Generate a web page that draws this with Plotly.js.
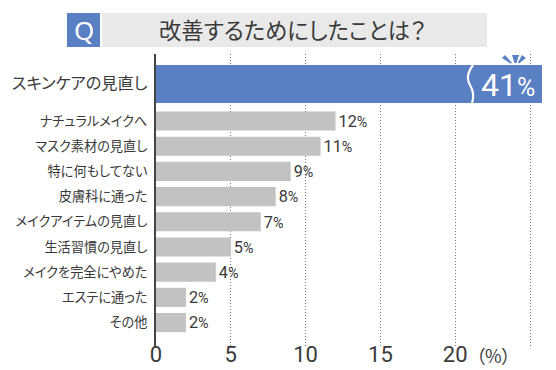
<!DOCTYPE html>
<html>
<head>
<meta charset="utf-8">
<script src="https://cdn.plot.ly/plotly-3.0.1.min.js"></script>
<style>html,body{margin:0;padding:0;background:#fff}
svg text{font-feature-settings:"palt" 1;}</style>
</head>
<body>
<div id="chart" style="width:556px;height:370px"></div>
<script>
const categories = ["スキンケアの見直し","ナチュラルメイクへ","マスク素材の見直し","特に何もしてない","皮膚科に通った","メイクアイテムの見直し","生活習慣の見直し","メイクを完全にやめた","エステに通った","その他"];
const values = [41,12,11,9,8,7,5,4,2,2];
const rowPositions = [0,1.47,2.47,3.47,4.47,5.47,6.47,7.47,8.47,9.47];
const rowWidths = [1.5,0.76,0.76,0.76,0.76,0.76,0.76,0.76,0.76,0.76];
const barColors = ["#5a80c4","#c2c2c2","#c2c2c2","#c2c2c2","#c2c2c2","#c2c2c2","#c2c2c2","#c2c2c2","#c2c2c2","#c2c2c2"];
const xTickVals = [0,5,10,15,20,25];
const xTickText = ["0","5","10","15","20",""];
const titleText = "改善するためにしたことは？";
const jp = '"Noto Sans CJK JP","Noto Sans",sans-serif';
const num = 'Roboto,"Noto Sans",sans-serif';
const ink = "#3a3a3a";

const W=556,H=370,L=156,R=14,T=54,B=24;
const px = x => (x-L)/(W-L-R);
const py = y => (H-B-y)/(H-T-B);
const pathOf = s => s.replace(/(-?[\d.]+),(-?[\d.]+)/g,(m,a,b)=>px(+a).toFixed(5)+","+py(+b).toFixed(5));
const rect=(x0,y0,x1,y1,c)=>({type:"rect",xref:"paper",yref:"paper",x0:px(x0),x1:px(x1),y0:py(y0),y1:py(y1),fillcolor:c,line:{width:0},layer:"above"});
const poly=(s,c)=>({type:"path",xref:"paper",yref:"paper",path:pathOf(s),fillcolor:c,line:{width:0},layer:"above"});

const shapes=[
 rect(67,13,100,47,"#5a80c4"),
 rect(102,13,487,47,"#e9e9e9"),
 {type:"path",xref:"paper",yref:"paper",path:pathOf("M 473,65 C 465,76 468,82 471,87 C 474,93 474,97 472,103"),line:{color:"#fff",width:2.2},layer:"above"},
 poly("M 512,55 L 519,55 L 516.5,63 L 514.5,63 Z","#5a80c4"),
 poly("M 502,58 L 505,55 L 512,63 L 510.5,63.5 Z","#5a80c4"),
 poly("M 522,55 L 526,58 L 519,63.5 L 518,62.5 Z","#5a80c4")
];
const ann=(x,y,text,size,color,family,anchor)=>({xref:"paper",yref:"paper",x:px(x),y:py(y),text,showarrow:false,xanchor:anchor||"center",yanchor:"middle",font:{size,color,family}});
const annotations=[
 ann(83.5,30,"Q",26,"#fff",'"Noto Sans",sans-serif'),
 ann(292,29.5,titleText,22.3,ink,jp),
 ann(508,84.5,'41<span style="font-size:25px">%</span>',32,"#fff",num),
 ann(493,355,"（%）",18,ink,jp)
];

const labelText = values.map((v,i)=> i===0 ? "" : v+'<span style="font-size:15px">%</span>');
const tickText = categories.map((c,i)=> i===0 ? '<span style="font-size:16.2px">'+c+'</span>' : c);

Plotly.newPlot("chart",[{
  type:"bar",orientation:"h",
  x:values,y:rowPositions,width:rowWidths,
  marker:{color:barColors,line:{width:0}},
  text:labelText,textposition:"outside",cliponaxis:false,
  textfont:{size:17,color:ink,family:num},
  hoverinfo:"skip"
}],{
  width:W,height:H,
  margin:{l:L,r:R,t:T,b:B,pad:0},
  paper_bgcolor:"#fff",plot_bgcolor:"#fff",
  showlegend:false,
  xaxis:{range:[0,25.8],tickmode:"array",tickvals:xTickVals,ticktext:xTickText,
    showgrid:true,gridcolor:"#777",griddash:"1px,2px",gridwidth:1,
    zeroline:false,showline:false,ticks:"",ticklabelstandoff:-7,
    tickfont:{size:22,color:ink,family:num}},
  yaxis:{range:[10.4,-1.19],tickmode:"array",tickvals:rowPositions,ticktext:tickText,
    showgrid:false,zeroline:false,showline:true,linecolor:"#444",linewidth:2,ticks:"",
    ticklabelstandoff:4,
    tickfont:{size:13.2,color:ink,family:jp}},
  shapes,annotations,
  font:{family:jp}
},{displayModeBar:false,staticPlot:true});
</script>
</body>
</html>
